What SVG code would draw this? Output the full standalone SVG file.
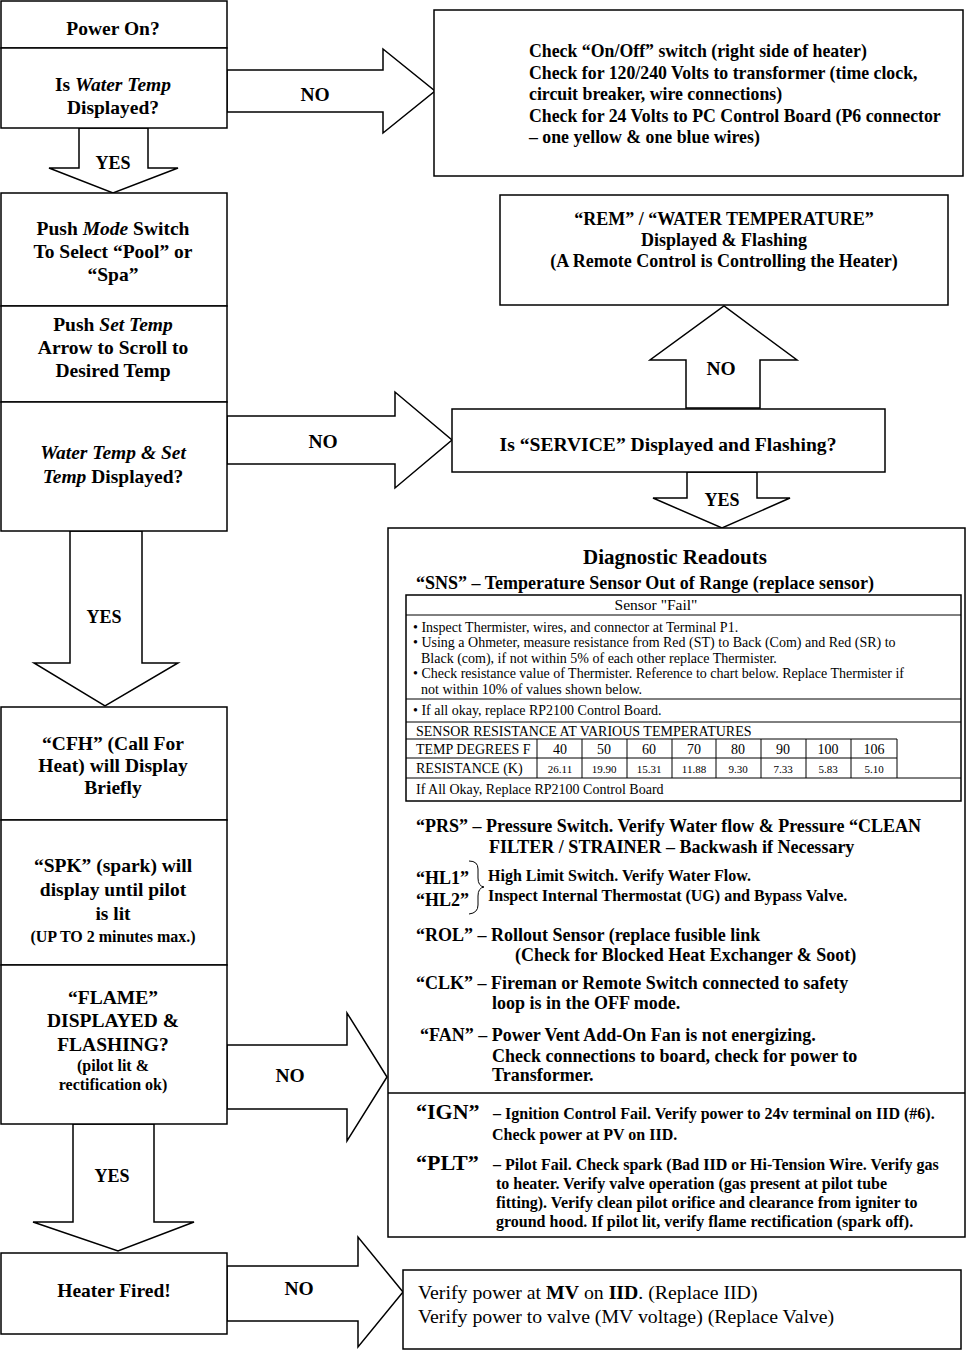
<svg xmlns="http://www.w3.org/2000/svg" width="973" height="1351" viewBox="0 0 973 1351">
<style>
.bx{fill:#fff;stroke:#000;stroke-width:1.5}
.ln{stroke:#000;stroke-width:1.5;fill:none}
.tl{stroke:#000;stroke-width:1;fill:none}
.ar{fill:#fff;stroke:#000;stroke-width:1.5;stroke-linejoin:miter}
text{font-family:"Liberation Serif","Times New Roman",serif;fill:#000}
.b{font-weight:bold}
.i{font-style:italic}
.c{text-anchor:middle}
.no{font-size:19.5px;font-weight:bold;text-anchor:middle}
.yes{font-size:18px;font-weight:bold;text-anchor:middle}
.lft{font-size:19.5px;font-weight:bold;text-anchor:middle}
.sm{font-size:16px;font-weight:bold;text-anchor:middle}
.tr{font-size:17.8px;font-weight:bold}
.d{font-size:18px;font-weight:bold}
.h{font-size:16px;font-weight:bold}
.t{font-size:14px}
.ts{font-size:11px}
.r{font-size:19.8px}
</style>
<rect width="973" height="1351" fill="#fff"/>

<g id="connectors">
  <polygon class="ar" points="227,70 383,70 383,49 435,91 383,133 383,112 227,112"/>
  <text class="no" x="315" y="101">NO</text>
  <polygon class="ar" points="79,128 79,168 49,168 113,193 178,168 148,168 148,128"/>
  <text class="yes" x="113" y="169">YES</text>
  <polygon class="ar" points="686,408 686,360 650,360 724,306 797,360 760,360 760,408"/>
  <text class="no" x="721" y="375" font-size="17px">NO</text>
  <polygon class="ar" points="227,416 395,416 395,392 452,440 395,488 395,464 227,464"/>
  <text class="no" x="323" y="448">NO</text>
  <polygon class="ar" points="687,472 687,498 653,498 722,528 790,498 757,498 757,472"/>
  <text class="yes" x="722" y="506">YES</text>
  <polygon class="ar" points="70,531 70,663 34,663 105,706 178,663 142,663 142,531"/>
  <text class="yes" x="104" y="623">YES</text>
  <polygon class="ar" points="227,1045 347,1045 347,1013 387,1077 347,1141 347,1109 227,1109"/>
  <text class="no" x="290" y="1082">NO</text>
  <polygon class="ar" points="73,1124 73,1222 33,1222 118,1251 194,1222 154,1222 154,1124"/>
  <text class="yes" x="112" y="1182">YES</text>
  <polygon class="ar" points="227,1266 358,1266 358,1237 403,1292 358,1347 358,1321 227,1321"/>
  <text class="no" x="299" y="1295">NO</text>
</g>

<g id="power-on">
  <rect class="bx" x="1" y="1" width="226" height="47"/>
  <text class="lft" x="113" y="35">Power On?</text>
</g>
<g id="water-temp-displayed">
  <rect class="bx" x="1" y="48" width="226" height="80"/>
  <text class="lft" x="113" y="91">Is <tspan class="i">Water Temp</tspan></text>
  <text class="lft" x="113" y="114">Displayed?</text>
</g>
<g id="power-checks">
  <rect class="bx" x="434" y="10" width="529" height="166"/>
  <text class="tr" x="529" y="57">Check “On/Off” switch (right side of heater)</text>
  <text class="tr" x="529" y="79">Check for 120/240 Volts to transformer (time clock,</text>
  <text class="tr" x="529" y="100">circuit breaker, wire connections)</text>
  <text class="tr" x="529" y="122">Check for 24 Volts to PC Control Board (P6 connector</text>
  <text class="tr" x="529" y="143">– one yellow &amp; one blue wires)</text>
</g>
<g id="push-mode">
  <rect class="bx" x="1" y="193" width="226" height="113"/>
  <text class="lft" x="113" y="235">Push <tspan class="i">Mode</tspan> Switch</text>
  <text class="lft" x="113" y="258">To Select “Pool” or</text>
  <text class="lft" x="113" y="281">“Spa”</text>
</g>
<g id="push-set-temp">
  <rect class="bx" x="1" y="306" width="226" height="96"/>
  <text class="lft" x="113" y="331">Push <tspan class="i">Set Temp</tspan></text>
  <text class="lft" x="113" y="354">Arrow to Scroll to</text>
  <text class="lft" x="113" y="377">Desired Temp</text>
</g>
<g id="water-set-displayed">
  <rect class="bx" x="1" y="402" width="226" height="129"/>
  <text class="lft" x="113" y="459"><tspan class="i">Water Temp &amp; Set</tspan></text>
  <text class="lft" x="113" y="483"><tspan class="i">Temp</tspan> Displayed?</text>
</g>
<g id="rem">
  <rect class="bx" x="500" y="195" width="448" height="110"/>
  <text class="d c" x="724" y="225">“REM” / “WATER TEMPERATURE”</text>
  <text class="d c" x="724" y="246">Displayed &amp; Flashing</text>
  <text class="d c" x="724" y="267">(A Remote Control is Controlling the Heater)</text>
</g>
<g id="service">
  <rect class="bx" x="452" y="409" width="433" height="63"/>
  <text class="b c" x="668" y="451" font-size="19.6">Is “SERVICE” Displayed and Flashing?</text>
</g>

<g id="diagnostic-readouts">
  <rect class="bx" x="388" y="528" width="577" height="709"/>
  <line class="ln" x1="388" y1="1093" x2="965" y2="1093"/>
  <text class="b c" x="675" y="564" font-size="21">Diagnostic Readouts</text>
  <text class="d" x="416" y="589">“SNS” – Temperature Sensor Out of Range (replace sensor)</text>
  <g id="sensor-table">
    <rect x="406" y="595" width="555" height="206" fill="#fff" stroke="#000" stroke-width="1.5"/>
    <line class="tl" x1="406" y1="615" x2="961" y2="615"/>
    <line class="tl" x1="406" y1="699" x2="961" y2="699"/>
    <line class="tl" x1="406" y1="722" x2="961" y2="722"/>
    <line class="tl" x1="406" y1="739" x2="897" y2="739"/>
    <line class="tl" x1="406" y1="758" x2="897" y2="758"/>
    <line class="tl" x1="406" y1="778" x2="961" y2="778"/>
    <path class="tl" d="M537,739V778M582,739V778M627,739V778M672,739V778M716,739V778M761,739V778M806,739V778M851,739V778M897,739V778"/>
    <text class="c" x="656" y="610" font-size="15.5">Sensor "Fail"</text>
    <text class="t" x="413" y="632">• Inspect Thermister, wires, and connector at Terminal P1.</text>
    <text class="t" x="413" y="647">• Using a Ohmeter, measure resistance from Red (ST) to Back (Com) and Red (SR) to</text>
    <text class="t" x="421" y="663">Black (com), if not within 5% of each other replace Thermister.</text>
    <text class="t" x="413" y="678">• Check resistance value of Thermister.  Reference to chart below.  Replace Thermister if</text>
    <text class="t" x="421" y="694">not within 10% of values shown below.</text>
    <text class="t" x="413" y="715">• If all okay, replace RP2100 Control Board.</text>
    <text class="t" x="416" y="736">SENSOR RESISTANCE AT VARIOUS TEMPERATURES</text>
    <text class="t" x="416" y="754" font-size="13.2">TEMP DEGREES F</text>
    <text class="t c" x="560" y="754">40</text>
    <text class="t c" x="604" y="754">50</text>
    <text class="t c" x="649" y="754">60</text>
    <text class="t c" x="694" y="754">70</text>
    <text class="t c" x="738" y="754">80</text>
    <text class="t c" x="783" y="754">90</text>
    <text class="t c" x="828" y="754">100</text>
    <text class="t c" x="874" y="754">106</text>
    <text class="t" x="416" y="773" font-size="13.2">RESISTANCE (K)</text>
    <text class="ts c" x="560" y="773">26.11</text>
    <text class="ts c" x="604" y="773">19.90</text>
    <text class="ts c" x="649" y="773">15.31</text>
    <text class="ts c" x="694" y="773">11.88</text>
    <text class="ts c" x="738" y="773">9.30</text>
    <text class="ts c" x="783" y="773">7.33</text>
    <text class="ts c" x="828" y="773">5.83</text>
    <text class="ts c" x="874" y="773">5.10</text>
    <text class="t" x="416" y="794">If All Okay, Replace RP2100 Control Board</text>
  </g>
  <text class="d" x="416" y="832">“PRS” – Pressure Switch. Verify Water flow &amp; Pressure “CLEAN</text>
  <text class="d" x="489" y="853">FILTER / STRAINER – Backwash if Necessary</text>
  <text class="d" x="416" y="884">“HL1”</text>
  <text class="d" x="416" y="906">“HL2”</text>
  <path class="tl" d="M469,861 q9,0 9,8 v9 q0,8 6,9 q-6,1 -6,9 v9 q0,8 -9,9" stroke-width="1.3"/>
  <text class="h" x="488" y="881">High Limit Switch. Verify Water Flow.</text>
  <text class="h" x="488" y="901">Inspect Internal Thermostat (UG) and Bypass Valve.</text>
  <text class="d" x="416" y="941">“ROL” – Rollout Sensor (replace fusible link</text>
  <text class="d" x="515" y="961">(Check for Blocked Heat Exchanger &amp; Soot)</text>
  <text class="d" x="416" y="989">“CLK” – Fireman or Remote Switch connected to safety</text>
  <text class="d" x="492" y="1009">loop is in the OFF mode.</text>
  <text class="d" x="420" y="1041">“FAN” – Power Vent Add-On Fan is not energizing.</text>
  <text class="d" x="492" y="1062">Check connections to board, check for power to</text>
  <text class="d" x="492" y="1081">Transformer.</text>
  <text class="b" x="416" y="1119"><tspan font-size="22">“IGN”</tspan><tspan font-size="16" x="489"> – Ignition Control Fail. Verify power to 24v terminal on IID (#6).</tspan></text>
  <text class="h" x="492" y="1140">Check power at PV on IID.</text>
  <text class="b" x="416" y="1170"><tspan font-size="22">“PLT”</tspan><tspan font-size="16" x="489"> – Pilot Fail. Check spark (Bad IID or Hi-Tension Wire. Verify gas</tspan></text>
  <text class="h" x="496" y="1189">to heater. Verify valve operation (gas present at pilot tube</text>
  <text class="h" x="496" y="1208">fitting). Verify clean pilot orifice and clearance from igniter to</text>
  <text class="h" x="496" y="1227">ground hood. If pilot lit, verify flame rectification (spark off).</text>
</g>

<g id="cfh">
  <rect class="bx" x="1" y="707" width="226" height="113"/>
  <text class="lft" x="113" y="750">“CFH” (Call For</text>
  <text class="lft" x="113" y="772">Heat) will Display</text>
  <text class="lft" x="113" y="794">Briefly</text>
</g>
<g id="spk">
  <rect class="bx" x="1" y="820" width="226" height="145"/>
  <text class="lft" x="113" y="872" font-size="21.3">“SPK” (spark) will</text>
  <text class="lft" x="113" y="896" font-size="21.3">display until pilot</text>
  <text class="lft" x="113" y="920" font-size="21.3">is lit</text>
  <text class="sm" x="113" y="942" font-size="15.5">(UP TO 2 minutes max.)</text>
</g>
<g id="flame">
  <rect class="bx" x="1" y="965" width="226" height="159"/>
  <text class="lft" x="113" y="1004" font-size="19.8">“FLAME”</text>
  <text class="lft" x="113" y="1027" font-size="19.8">DISPLAYED &amp;</text>
  <text class="lft" x="113" y="1051" font-size="21">FLASHING?</text>
  <text class="sm" x="113" y="1071">(pilot lit &amp;</text>
  <text class="sm" x="113" y="1090">rectification ok)</text>
</g>
<g id="heater-fired">
  <rect class="bx" x="1" y="1253" width="226" height="81"/>
  <text class="lft" x="114" y="1297" font-size="21.4">Heater Fired!</text>
</g>
<g id="valve-checks">
  <rect class="bx" x="403" y="1270" width="558" height="79"/>
  <text class="r" x="418" y="1299">Verify power at <tspan class="b">MV</tspan> on <tspan class="b">IID</tspan>. (Replace IID)</text>
  <text class="r" x="418" y="1323">Verify power to valve (MV voltage) (Replace Valve)</text>
</g>
</svg>
